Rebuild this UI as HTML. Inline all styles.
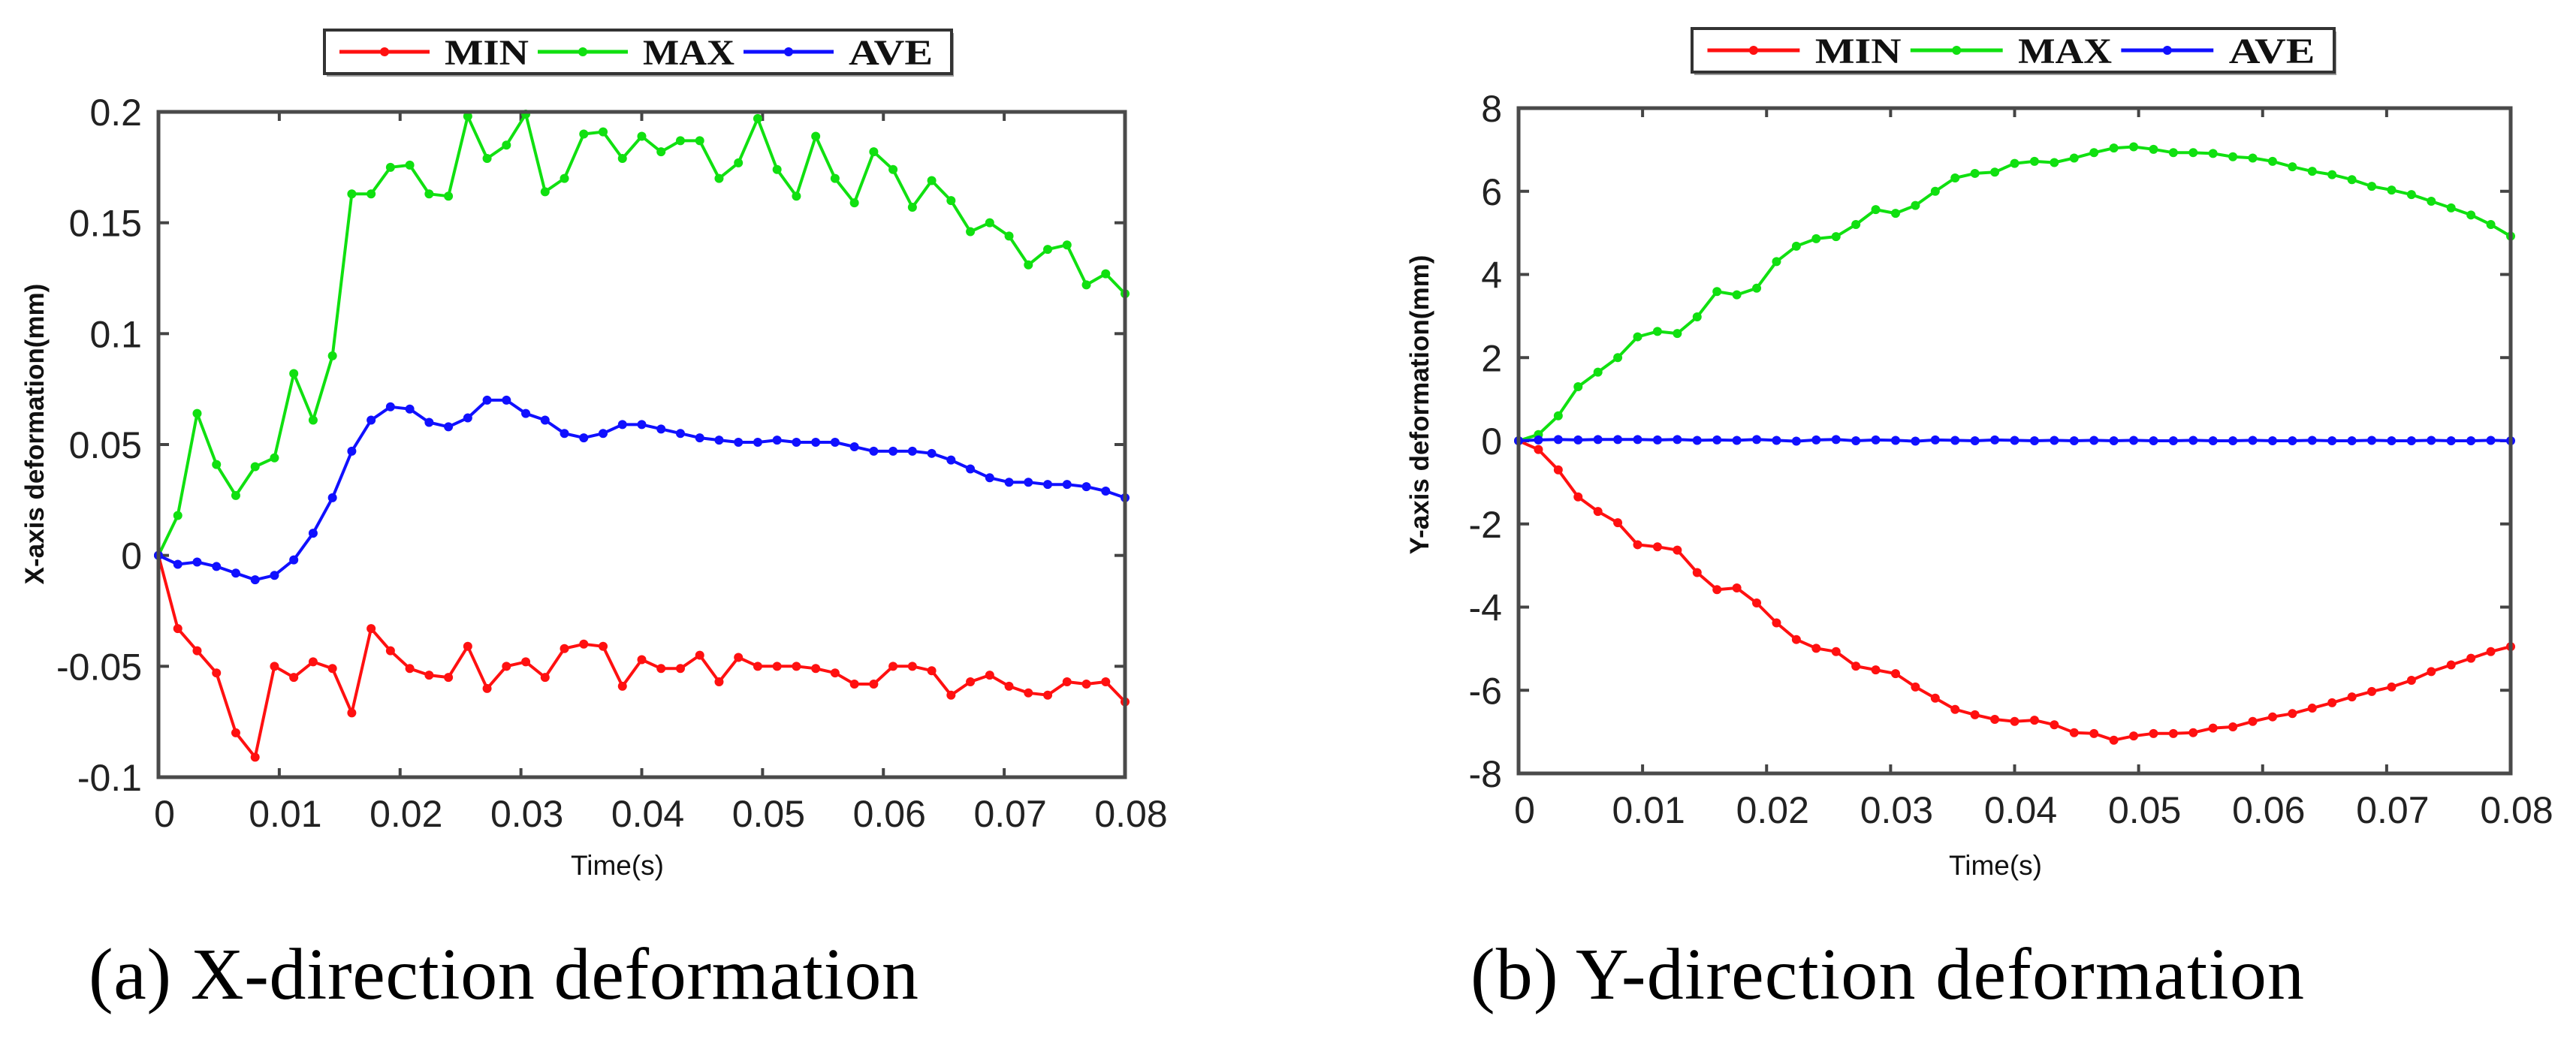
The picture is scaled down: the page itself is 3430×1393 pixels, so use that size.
<!DOCTYPE html>
<html><head><meta charset="utf-8">
<style>
html,body{margin:0;padding:0;background:#fff;}
svg{display:block;}
text{font-family:"Liberation Sans",sans-serif;}
</style></head>
<body>
<svg id="fig" width="3430" height="1393" viewBox="0 0 3430 1393" xmlns="http://www.w3.org/2000/svg">
  <g id="chartA"></g>
  <g id="chartB"></g>
  <text x="118" y="1330" font-family="Liberation Serif, serif" style="font-family:'Liberation Serif',serif" font-size="98" textLength="1105" fill="#000">(a) X-direction deformation</text>
  <text x="1958" y="1330" style="font-family:'Liberation Serif',serif" font-size="98" textLength="1110" fill="#000">(b) Y-direction deformation</text>
</svg>
<script>
// ---- data ----
const xTicks = [0, 0.01, 0.02, 0.03, 0.04, 0.05, 0.06, 0.07, 0.08];
const xTickLabels = ["0","0.01","0.02","0.03","0.04","0.05","0.06","0.07","0.08"];
const timeStep = 0.0016;
const aYTicks = [-0.1, -0.05, 0, 0.05, 0.1, 0.15, 0.2];
const aYTickLabels = ["-0.1","-0.05","0","0.05","0.1","0.15","0.2"];
const aMin = [0,-0.033,-0.043,-0.053,-0.080,-0.091,-0.050,-0.055,-0.048,-0.051,-0.071,-0.033,-0.043,-0.051,-0.054,-0.055,-0.041,-0.060,-0.050,-0.048,-0.055,-0.042,-0.040,-0.041,-0.059,-0.047,-0.051,-0.051,-0.045,-0.057,-0.046,-0.050,-0.050,-0.050,-0.051,-0.053,-0.058,-0.058,-0.050,-0.050,-0.052,-0.063,-0.057,-0.054,-0.059,-0.062,-0.063,-0.057,-0.058,-0.057,-0.066];
const aMax = [0,0.018,0.064,0.041,0.027,0.040,0.044,0.082,0.061,0.090,0.163,0.163,0.175,0.176,0.163,0.162,0.198,0.179,0.185,0.199,0.164,0.170,0.190,0.191,0.179,0.189,0.182,0.187,0.187,0.170,0.177,0.197,0.174,0.162,0.189,0.170,0.159,0.182,0.174,0.157,0.169,0.160,0.146,0.150,0.144,0.131,0.138,0.140,0.122,0.127,0.118];
const aAve = [0,-0.004,-0.003,-0.005,-0.008,-0.011,-0.009,-0.002,0.010,0.026,0.047,0.061,0.067,0.066,0.060,0.058,0.062,0.070,0.070,0.064,0.061,0.055,0.053,0.055,0.059,0.059,0.057,0.055,0.053,0.052,0.051,0.051,0.052,0.051,0.051,0.051,0.049,0.047,0.047,0.047,0.046,0.043,0.039,0.035,0.033,0.033,0.032,0.032,0.031,0.029,0.026];
const bYTicks = [-8,-6,-4,-2,0,2,4,6,8];
const bYTickLabels = ["-8","-6","-4","-2","0","2","4","6","8"];
const bMin = [0,-0.21,-0.7,-1.35,-1.7,-1.97,-2.5,-2.55,-2.63,-3.17,-3.58,-3.54,-3.9,-4.38,-4.78,-4.99,-5.07,-5.42,-5.51,-5.6,-5.92,-6.19,-6.46,-6.59,-6.7,-6.75,-6.72,-6.83,-7.02,-7.04,-7.2,-7.1,-7.04,-7.04,-7.02,-6.91,-6.88,-6.75,-6.64,-6.56,-6.43,-6.3,-6.16,-6.03,-5.92,-5.76,-5.55,-5.39,-5.23,-5.07,-4.95];
const bMax = [0,0.15,0.6,1.3,1.65,2.0,2.5,2.63,2.58,2.98,3.59,3.51,3.67,4.31,4.68,4.86,4.91,5.2,5.56,5.47,5.66,6.0,6.32,6.43,6.46,6.67,6.72,6.69,6.8,6.93,7.04,7.07,7.01,6.93,6.93,6.91,6.83,6.8,6.72,6.59,6.48,6.4,6.28,6.12,6.03,5.92,5.76,5.6,5.43,5.2,4.92];
const bAve = [0,0.02,0.03,0.02,0.03,0.03,0.03,0.02,0.03,0.01,0.02,0.01,0.03,0.01,-0.01,0.02,0.03,0,0.02,0.01,-0.01,0.02,0.01,0,0.02,0.01,0,0.01,0,0.01,0,0.01,0,0,0.01,0,0,0.01,0,0,0.01,0,0,0.01,0,0,0.01,0,0,0.01,0];
const seriesNames = ["MIN","MAX","AVE"];
const seriesColors = ["#ff1010","#10e010","#1010ff"];

const NS = "http://www.w3.org/2000/svg";
function mk(tag, attrs, parent){
  const e = document.createElementNS(NS, tag);
  for (const k in attrs) e.setAttribute(k, attrs[k]);
  parent.appendChild(e);
  return e;
}

function drawChart(g, box, yTicks, yLabels, yMin, yMax, series, yTitle, titleX, titleY, timeX, timeY, legend){
  const sx = v => box.l + (v - 0) / 0.08 * (box.r - box.l);
  const sy = v => box.b - (v - yMin) / (yMax - yMin) * (box.b - box.t);
  // ticks
  xTicks.forEach((t, i) => {
    const x = sx(t);
    const tk = mk("line", {x1:x, x2:x, y1:box.b, y2:box.b-12, stroke:"#444", "stroke-width":4}, g);
    
    
    const tk2 = mk("line", {x1:x, x2:x, y1:box.t, y2:box.t+12, stroke:"#444", "stroke-width":4}, g);
    
    
    const lb = mk("text", {x:x+8, y:box.b+66, "font-size":50, "text-anchor":"middle", fill:"#222"}, g);
    lb.textContent = xLabelsFor(i);
    
    
  });
  yTicks.forEach((v, i) => {
    const y = sy(v);
    const tk = mk("line", {x1:box.l, x2:box.l+14, y1:y, y2:y, stroke:"#444", "stroke-width":4}, g);
    
    
    const tk2 = mk("line", {x1:box.r, x2:box.r-14, y1:y, y2:y, stroke:"#444", "stroke-width":4}, g);
    
    
    const lb = mk("text", {x:box.l-22, y:y+18, "font-size":50, "text-anchor":"end", fill:"#222"}, g);
    lb.textContent = yLabels[i];
    
    
  });
  // series
  series.forEach((vals, si) => {
    const pts = vals.map((v, i) => sx(i * timeStep).toFixed(1) + "," + sy(v).toFixed(1)).join(" ");
    const pl = mk("polyline", {points:pts, fill:"none", stroke:seriesColors[si], "stroke-width":4, "stroke-linejoin":"round"}, g);
    
    
    vals.forEach((v, i) => {
      const c = mk("circle", {cx:sx(i * timeStep), cy:sy(v), r:6, fill:seriesColors[si]}, g);
      
      
    });
  });
  // frame
  const fr = mk("rect", {x:box.l, y:box.t, width:box.r-box.l, height:box.b-box.t, fill:"none", stroke:"#4a4a4a", "stroke-width":5}, g);
  
  
  // titles
  const yt = mk("text", {x:0, y:0, "font-size":35, "font-weight":"bold", "text-anchor":"middle", fill:"#111", transform:"translate(" + titleX + "," + titleY + ") rotate(-90)"}, g);
  yt.textContent = yTitle;
  
  
  const xt = mk("text", {x:timeX, y:timeY, "font-size":37, "text-anchor":"middle", fill:"#111"}, g);
  xt.textContent = "Time(s)";
  
  
  // legend
  const lg = mk("g", {}, g);
  
  
  const sh = mk("rect", {x:legend.x+3, y:legend.y+4, width:legend.w, height:legend.h, fill:"#999"}, lg);
  
  
  const lr = mk("rect", {x:legend.x, y:legend.y, width:legend.w, height:legend.h, fill:"#fff", stroke:"#333", "stroke-width":4}, lg);
  
  
  const k = legend.w / 835;
  const offs = [20, 284, 558];
  seriesNames.forEach((n, si) => {
    const x0 = legend.x + offs[si] * k;
    const cy = legend.y + legend.h / 2;
    const e = mk("g", {}, lg);
    
    
    mk("line", {x1:x0, x2:x0 + 120*k, y1:cy, y2:cy, stroke:seriesColors[si], "stroke-width":5}, e);
    mk("circle", {cx:x0 + 60*k, cy:cy, r:6, fill:seriesColors[si]}, e);
    const t = mk("text", {x:x0 + 140*k, y:cy + 17, "font-size":48, "font-weight":"bold", fill:"#111", style:"font-family:'Liberation Serif',serif", textLength:(si===1?122:112)*k, lengthAdjust:"spacingAndGlyphs"}, e);
    t.textContent = n;
  });
}
function xLabelsFor(i){ return xTickLabels[i]; }

drawChart(document.getElementById("chartA"), {l:211, r:1498, t:149, b:1035}, aYTicks, aYTickLabels, -0.1, 0.2,
  [aMin, aMax, aAve], "X-axis deformation(mm)", 58, 578, 822, 1165, {x:432, y:40, w:835, h:58});
drawChart(document.getElementById("chartB"), {l:2022, r:3343, t:144, b:1030}, bYTicks, bYTickLabels, -8, 8,
  [bMin, bMax, bAve], "Y-axis deformation(mm)", 1902, 539, 2657, 1165, {x:2253, y:38, w:855, h:58});
</script>
</body></html>
